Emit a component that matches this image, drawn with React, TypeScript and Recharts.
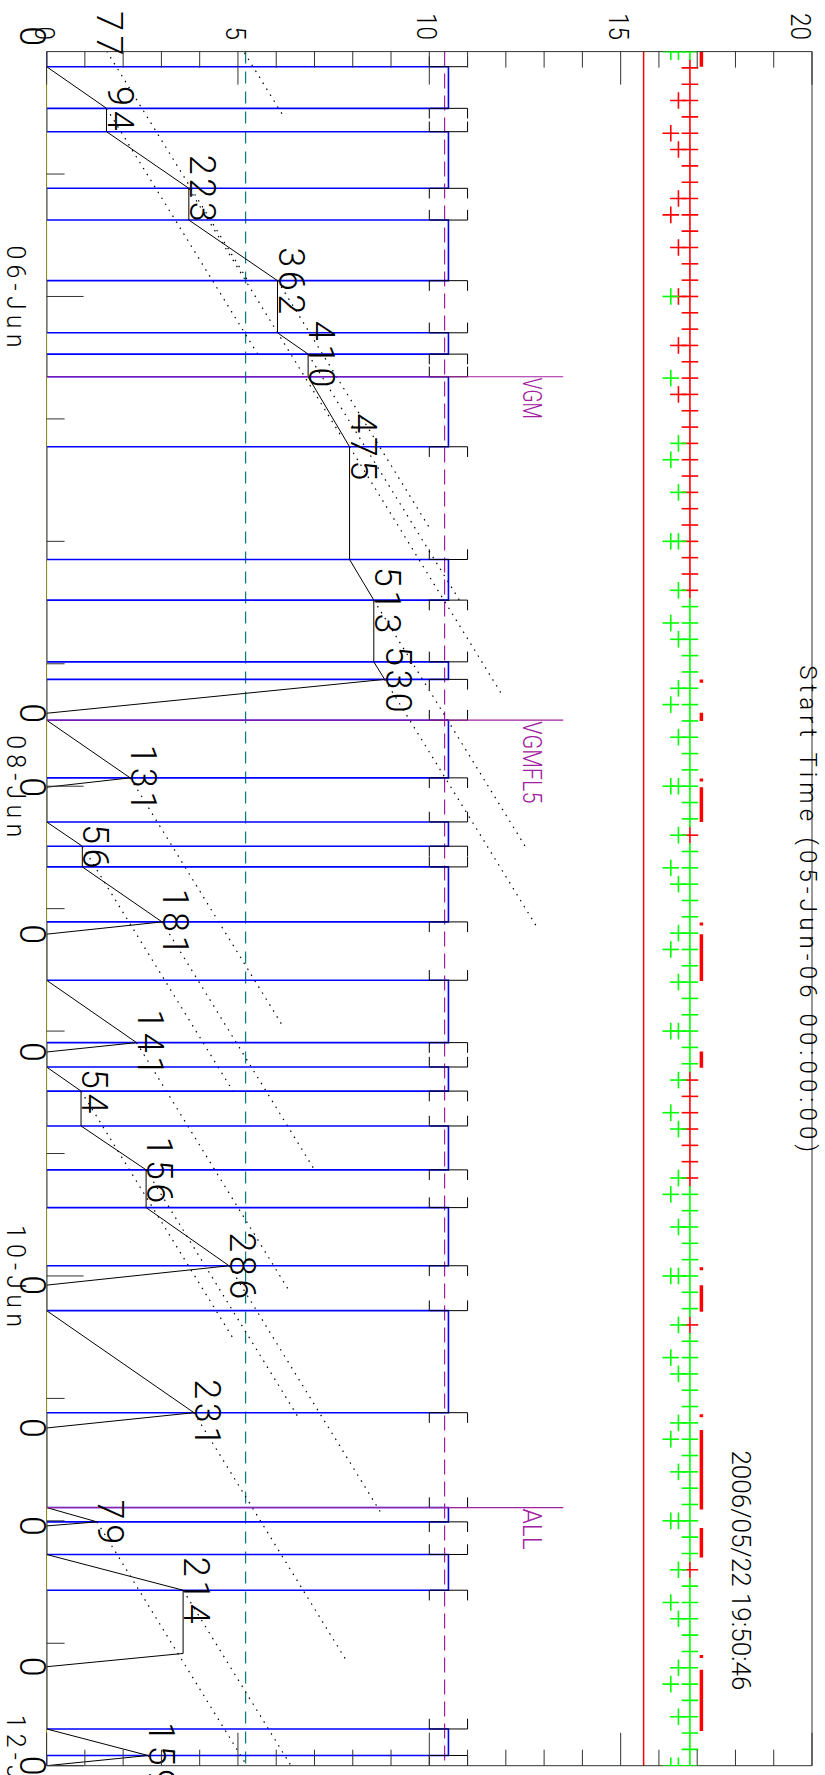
import React from 'react';
import { ComposedChart, Line, Scatter, XAxis, YAxis, ReferenceLine, ReferenceDot } from 'recharts';

// The plot is built landscape (time across, 0-20 up) and turned 90deg clockwise onto the page.
const W = 1775;
const H = 825;

const AXIS = '#333';
const FONT = 'Roboto, "Liberation Sans", sans-serif';

// blue on-periods, hours after 05-Jun-06 00:00
const onStarts = [1.48, 7.85, 16.51, 27.56, 31.87, 49.78, 59.81, 65.53, 75.5, 79.91, 91.02, 99.52, 105.3, 113.3, 123.4, 142.7, 147.3, 164.4];
const onEnds = [5.56, 13.4, 22.45, 29.65, 38.73, 53.76, 61.53, 71.18, 77.88, 85.3, 97.13, 101.88, 109.6, 119.0, 133.4, 144.1, 150.8, 167.0];
const ON_LEVEL = 10.5;
const CAP = 1.0; // bracket arm, hours

// black running total in minutes (plotted as minutes / 60)
const runTimes = [-1.8, -1.5, 1.48, 5.56, 7.85, 13.4, 16.51, 22.45, 27.56, 29.65, 31.87, 38.73, 49.78, 53.76, 59.81, 61.53, 64.85, 65.53, 71.18, 72.1, 75.5, 77.88, 79.91, 85.3, 86.5, 91.02, 97.13, 98.05, 99.52, 101.88, 105.3, 109.6, 113.3, 119.0, 120.9, 123.4, 133.4, 134.9, 142.7, 144.1, 144.5, 147.3, 150.8, 157.0, 158.3, 164.4, 167.0, 168];
const runMinutes = [77, 0, 0, 94, 94, 223, 223, 362, 362, 410, 410, 475, 475, 513, 513, 530, 0, 0, 131, 0, 0, 56, 56, 181, 0, 0, 141, 0, 0, 54, 54, 156, 156, 286, 0, 0, 231, 0, 0, 79, 0, 0, 214, 214, 0, 0, 159, 0];

// printed totals
const labelTimes = [-1.8, -1.5, 5.56, 13.4, 22.45, 29.65, 38.73, 53.76, 61.53, 64.85, 71.18, 72.1, 77.88, 85.3, 86.5, 97.13, 98.05, 101.88, 109.6, 119.0, 120.9, 133.4, 134.9, 144.1, 144.5, 150.8, 158.3, 167.0, 168];
const labelMinutes = [77, 0, 94, 223, 362, 410, 475, 513, 530, 0, 131, 0, 56, 181, 0, 141, 0, 54, 156, 286, 0, 231, 0, 79, 0, 214, 0, 159, 0];

// dotted 24 h allowance lines, each from a printed total
const guideStartTimes = [-18.0, -1.8, 5.56, 13.4, 22.45, 29.65, 38.73, 53.76, 61.53, 71.18, 77.88, 85.3, 97.13, 101.88, 109.6, 119.0, 133.4, 144.1, 150.8, 167.0];
const guideStartMinutes = [132, 77, 94, 223, 362, 410, 475, 513, 530, 131, 56, 181, 141, 54, 156, 286, 231, 79, 214, 159];
const GUIDE_HOURS = 24.4;
const GUIDE_MINUTES = 240;

// programme start markers
const progTimes = [31.87, 65.53, 142.7];
const progNames = ['VGM', 'VGMFL5', 'ALL'];
const PROG_TOP = 13.5;

// orbit crosses (1.6 h cadence), three columns
const COL_MAIN = 16.81;
const COL_MID = 16.51;
const COL_LOW = 16.31;
const mainRed = [1.6, 3.2, 4.8, 6.4, 8, 9.6, 11.2, 12.8, 14.4, 16, 17.6, 19.2, 20.8, 22.4, 24, 25.6, 27.2, 28.8, 30.4, 32, 33.6, 35.2, 36.8, 38.4, 40, 41.6, 43.2, 44.8, 46.4, 48, 49.6, 51.2, 52.8, 76.8, 100.8, 102.4, 104, 105.6, 107.2, 108.8, 110.4, 124.8, 148.8];
const mainGreen = [0, 54.4, 56, 57.6, 59.2, 60.8, 62.4, 64, 65.6, 67.2, 68.8, 70.4, 72, 73.6, 75.2, 78.4, 80, 81.6, 83.2, 84.8, 86.4, 88, 89.6, 91.2, 92.8, 94.4, 96, 97.6, 99.2, 112, 113.6, 115.2, 116.8, 118.4, 120, 121.6, 123.2, 126.4, 128, 129.6, 131.2, 132.8, 134.4, 136, 137.6, 139.2, 140.8, 142.4, 144, 145.6, 147.2, 150.4, 152, 153.6, 155.2, 156.8, 158.4, 160, 161.6, 163.2, 164.8, 166.4, 168];
const midRed = [4.8, 9.6, 14.4, 19.2, 24, 28.8, 33.6];
const midGreen = [0, 38.4, 43.2, 48, 52.8, 57.6, 62.4, 67.2, 72, 76.8, 81.6, 86.4, 91.2, 96, 100.8, 105.6, 110.4, 115.2, 120, 124.8, 129.6, 134.4, 139.2, 144, 148.8, 153.6, 158.4, 163.2, 168];
const lowRed = [8, 16];
const lowGreen = [0, 24, 32, 40, 48, 56, 64, 72, 80, 88, 96, 104, 112, 120, 128, 136, 144, 152, 160, 168];

// thick red bars
const BAR_LEVEL = 17.11;
const barStarts = [0, 64.8, 72.1, 86.5, 98.0, 120.9, 135.1, 144.7, 158.6];
const barEnds = [1.48, 65.6, 75.5, 91.1, 99.6, 123.5, 142.9, 147.6, 164.6];
const barDots = [61.7, 71.4, 85.5, 119.3, 133.7, 157.3];

// fixed levels
const RED_LEVEL = 15.6;
const PURPLE_LEVEL = 10.4;
const TEAL_LEVEL = 5.2;

// axes
const timeTicks = [12, 24, 36, 48, 60, 72, 84, 96, 108, 120, 132, 144, 156, 168];
const timeLabels: Record<number, string> = { 24: '06-Jun', 72: '08-Jun', 120: '10-Jun', 168: '12-Jun' };
const valueTicks = [0, 1, 2, 3, 4, 5, 6, 7, 8, 9, 10, 11, 12, 13, 14, 15, 16, 17, 18, 19, 20];
const valueLabels = [0, 5, 10, 15, 20];

const TITLE = 'Start Time (05-Jun-06 00:00:00)';
const STAMP = '2006/05/22 19:50:46';
const STAMP_T = 137.1;
const STAMP_V = 17.9;

// ---- derived series ----
type P = { t: number; v: number | null };

const stepData: P[] = [{ t: 0, v: 0 }];
onStarts.forEach((s, i) => {
  stepData.push({ t: s, v: 0 }, { t: s, v: ON_LEVEL }, { t: onEnds[i], v: ON_LEVEL }, { t: onEnds[i], v: 0 });
});
stepData.push({ t: 168, v: 0 });

const capData: P[] = [];
onStarts.forEach((s) => {
  capData.push({ t: s - CAP, v: 10 }, { t: s, v: 10 }, { t: s, v: 11 }, { t: s - CAP, v: 11 }, { t: s, v: null });
});
onEnds.forEach((e) => {
  capData.push({ t: e + CAP, v: 10 }, { t: e, v: 10 }, { t: e, v: 11 }, { t: e + CAP, v: 11 }, { t: e, v: null });
});

const runData = runTimes.map((t, i) => ({ t, v: runMinutes[i] / 60 }));

const guideData: P[] = [];
guideStartTimes.forEach((t, i) => {
  const m = guideStartMinutes[i];
  guideData.push({ t, v: m / 60 }, { t: t + GUIDE_HOURS, v: (m + GUIDE_MINUTES) / 60 }, { t: t + GUIDE_HOURS, v: null });
});

const progData: P[] = [];
progTimes.forEach((t) => progData.push({ t, v: 0 }, { t, v: PROG_TOP }, { t, v: null }));

const barData: P[] = [];
barStarts.forEach((s, i) => barData.push({ t: s, v: BAR_LEVEL }, { t: barEnds[i], v: BAR_LEVEL }, { t: barEnds[i], v: null }));
barDots.forEach((d) => barData.push({ t: d - 0.15, v: BAR_LEVEL }, { t: d + 0.15, v: BAR_LEVEL }, { t: d, v: null }));

const col = (times: number[], v: number) => times.map((t) => ({ t, v }));

const cross = (color: string) => (p: any) => (
  <g stroke={color} strokeWidth={1.6}>
    <line x1={p.cx - 8.3} x2={p.cx + 8.3} y1={p.cy} y2={p.cy} />
    <line x1={p.cx} x2={p.cx} y1={p.cy - 8.3} y2={p.cy + 8.3} />
  </g>
);

const TimeTickBottom = ({ x, y, payload }: any) => {
  const label = timeLabels[payload.value];
  return (
    <g>
      <line x1={x} x2={x} y1={y} y2={y - (label ? 37 : 18)} stroke={AXIS} />
      {label && (
        <text x={x} y={y + 39.5} textAnchor="middle" fontSize={25} fontFamily={FONT} fontWeight={300} fill="#000" textLength={102} lengthAdjust="spacing">
          {label}
        </text>
      )}
    </g>
  );
};

const TimeTickTop = ({ x, y, payload }: any) => (
  <line x1={x} x2={x} y1={y} y2={y + (timeLabels[payload.value] ? 37 : 18)} stroke={AXIS} />
);

const ValueTickLeft = ({ x, y, payload }: any) => {
  const major = valueLabels.includes(payload.value);
  const txt = String(payload.value);
  return (
    <g>
      <line x1={x} x2={x + (major ? 33 : 16)} y1={y} y2={y} stroke={AXIS} />
      {major && (
        <text x={x - 11.6} y={Math.max(y + 2, 24)} dy={10} textAnchor="end" fontSize={28} fontFamily={FONT} fontWeight={300} fill="#000" textLength={txt.length * 13.5} lengthAdjust="spacingAndGlyphs">
          {txt}
        </text>
      )}
    </g>
  );
};

const ValueTickRight = ({ x, y, payload }: any) => (
  <line x1={x} x2={x - (valueLabels.includes(payload.value) ? 33 : 16)} y1={y} y2={y} stroke={AXIS} />
);

const RunLabel = (text: string) => (p: any) => {
  const zero = text === '0';
  return (
    <text x={p.cx} y={zero ? p.cy + 27 : p.cy - 1} textAnchor="middle" fontSize={36} fontFamily={FONT} fontWeight={300} fill="#000"
      textLength={text.length > 1 ? text.length * 22.3 : undefined} lengthAdjust="spacing">
      {text}
    </text>
  );
};

const ProgLabel = (text: string) => (p: any) => (
  <text x={p.cx + 1} y={p.cy} fontSize={26} fontFamily={FONT} fontWeight={300} fill="#a020a0" textLength={text.length * 13.7} lengthAdjust="spacingAndGlyphs">
    {text}
  </text>
);

const StampLabel = (p: any) => (
  <text x={p.cx} y={p.cy} fontSize={26} fontFamily={FONT} fontWeight={300} fill="#000" textLength={240} lengthAdjust="spacing">
    {STAMP}
  </text>
);

const TitleLabel = (p: any) => (
  <text x={p.cx} y={p.cy} textAnchor="middle" fontSize={24} fontFamily={FONT} fontWeight={300} fill="#000" textLength={487} lengthAdjust="spacing">
    {TITLE}
  </text>
);

export default function App() {
  return (
    <div style={{ position: 'absolute', left: 0, top: 0, width: H, height: W, overflow: 'hidden', background: '#fff' }}>
      <div style={{ position: 'absolute', left: 0, top: 0, width: W, height: H, transformOrigin: '0 0', transform: `translate(${H}px, 0px) rotate(90deg)` }}>
        <ComposedChart width={W} height={H} margin={{ top: 0, right: 0, bottom: 0, left: 0 }}>
          <XAxis xAxisId="t" dataKey="t" type="number" domain={[0, 168]} allowDataOverflow ticks={timeTicks} interval={0}
            height={46.6} tickSize={0} tickMargin={0} tickLine={false} tick={<TimeTickBottom />} axisLine={{ stroke: '#7f7f10' }} />
          <XAxis xAxisId="t2" orientation="top" type="number" domain={[0, 168]} allowDataOverflow ticks={timeTicks} interval={0}
            height={13} tickSize={0} tickMargin={0} tickLine={false} tick={<TimeTickTop />} axisLine={{ stroke: AXIS }} />
          <YAxis yAxisId="v" type="number" domain={[0, 20]} allowDataOverflow ticks={valueTicks} interval={0}
            width={51.6} tickSize={0} tickMargin={0} tickLine={false} tick={<ValueTickLeft />} axisLine={{ stroke: AXIS }} />
          <YAxis yAxisId="v2" orientation="right" type="number" domain={[0, 20]} allowDataOverflow ticks={valueTicks} interval={0}
            width={9.3} tickSize={0} tickMargin={0} tickLine={false} tick={<ValueTickRight />} axisLine={{ stroke: AXIS }} />

          <ReferenceLine xAxisId="t" yAxisId="v" y={TEAL_LEVEL} stroke="#008080" strokeWidth={1.2} strokeDasharray="12 8" />
          <ReferenceLine xAxisId="t" yAxisId="v" y={PURPLE_LEVEL} stroke="#a020a0" strokeWidth={1.2} strokeDasharray="15 7" />
          <ReferenceLine xAxisId="t" yAxisId="v" y={RED_LEVEL} stroke="#ff0000" strokeWidth={1.5} />

          <Line xAxisId="t" yAxisId="v" data={guideData} dataKey="v" stroke="#000" strokeWidth={1.2} strokeDasharray="1.5 5.5" dot={false} isAnimationActive={false} />
          <Line xAxisId="t" yAxisId="v" data={stepData} dataKey="v" stroke="#0000ff" strokeWidth={1.6} dot={false} isAnimationActive={false} />
          <Line xAxisId="t" yAxisId="v" data={capData} dataKey="v" stroke="#000" strokeWidth={1} dot={false} isAnimationActive={false} />
          <Line xAxisId="t" yAxisId="v" data={runData} dataKey="v" stroke="#000" strokeWidth={1} dot={false} isAnimationActive={false} />
          <Line xAxisId="t" yAxisId="v" data={progData} dataKey="v" stroke="#a020a0" strokeWidth={1.2} dot={false} isAnimationActive={false} />
          <Line xAxisId="t" yAxisId="v" data={barData} dataKey="v" stroke="#ff0000" strokeWidth={3.5} dot={false} isAnimationActive={false} />

          <Scatter xAxisId="t" yAxisId="v" data={col(mainRed, COL_MAIN)} dataKey="v" shape={cross('#ff0000')} isAnimationActive={false} />
          <Scatter xAxisId="t" yAxisId="v" data={col(mainGreen, COL_MAIN)} dataKey="v" shape={cross('#00ff00')} isAnimationActive={false} />
          <Scatter xAxisId="t" yAxisId="v" data={col(midRed, COL_MID)} dataKey="v" shape={cross('#ff0000')} isAnimationActive={false} />
          <Scatter xAxisId="t" yAxisId="v" data={col(midGreen, COL_MID)} dataKey="v" shape={cross('#00ff00')} isAnimationActive={false} />
          <Scatter xAxisId="t" yAxisId="v" data={col(lowRed, COL_LOW)} dataKey="v" shape={cross('#ff0000')} isAnimationActive={false} />
          <Scatter xAxisId="t" yAxisId="v" data={col(lowGreen, COL_LOW)} dataKey="v" shape={cross('#00ff00')} isAnimationActive={false} />

          {labelTimes.map((t, i) => (
            <ReferenceDot key={`lab${i}`} xAxisId="t" yAxisId="v" x={t} y={labelMinutes[i] / 60} r={0} ifOverflow="visible" shape={RunLabel(String(labelMinutes[i]))} />
          ))}
          {progTimes.map((t, i) => (
            <ReferenceDot key={`prog${i}`} xAxisId="t" yAxisId="v" x={t} y={12.45} r={0} ifOverflow="visible" shape={ProgLabel(progNames[i])} />
          ))}
          <ReferenceDot xAxisId="t" yAxisId="v" x={84} y={19.69} r={0} ifOverflow="visible" shape={TitleLabel} />
          <ReferenceDot xAxisId="t" yAxisId="v" x={STAMP_T} y={STAMP_V} r={0} ifOverflow="visible" shape={StampLabel} />
        </ComposedChart>
      </div>
    </div>
  );
}
